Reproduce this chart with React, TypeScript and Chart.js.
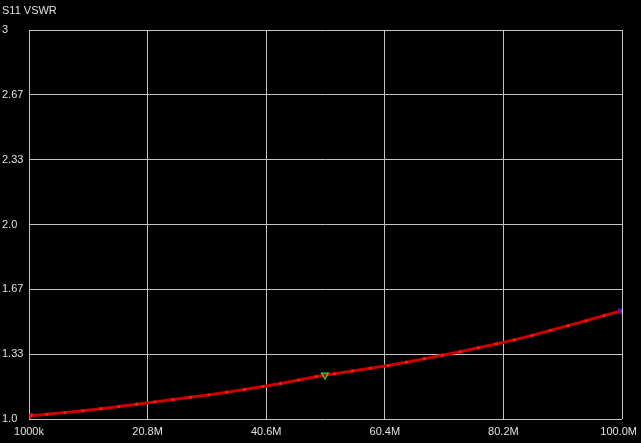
import React, { useEffect, useRef } from "react";
import { Chart, registerables } from "chart.js";

Chart.register(...registerables);

const freqsMHz = [1, 4, 7, 10, 13, 16, 19, 22, 25, 28, 31, 34, 37, 40, 43, 46, 49, 52, 55, 58, 61, 64, 67, 70, 73, 76, 79, 82, 85, 88, 91, 94, 97, 100];
const vswr = [1.015, 1.024, 1.033, 1.042, 1.053, 1.064, 1.076, 1.088, 1.1, 1.112, 1.124, 1.138, 1.152, 1.167, 1.183, 1.2, 1.218, 1.233, 1.247, 1.261, 1.275, 1.292, 1.31, 1.328, 1.346, 1.366, 1.386, 1.407, 1.43, 1.455, 1.48, 1.505, 1.532, 1.555];

const markerFreqs = [1, 50.4, 100];
const markerVswr = [1.015, 1.226, 1.555];
const markerColors = ["#ff2020", "#30e030", "#2020ff"];

const xTickValues = [1, 20.8, 40.6, 60.4, 80.2, 100];
const xTickLabels = ["1000k", "20.8M", "40.6M", "60.4M", "80.2M", "100.0M"];
const yTickValues = [1.0, 1.333, 1.667, 2.0, 2.333, 2.667, 3.0];
const yTickLabels = ["1.0", "1.33", "1.67", "2.0", "2.33", "2.67", "3"];

const titleText = "S11 VSWR";

export default function App() {
  const ref = useRef<HTMLCanvasElement | null>(null);

  useEffect(() => {
    document.body.style.margin = "0";
    document.body.style.background = "#000";
    const canvas = ref.current;
    if (!canvas) return;

    const textPlugin = {
      id: "texts",
      afterDraw(chart: any) {
        const ctx = chart.ctx;
        ctx.save();
        ctx.fillStyle = "#e0e0e0";
        ctx.font = "11px 'Liberation Sans'";
        ctx.textBaseline = "middle";
        ctx.textAlign = "left";
        ctx.fillText(titleText, 2, 11);
        // x tick labels, kept inside the canvas
        const xs = chart.scales.x;
        const yBase = chart.chartArea.bottom + 13;
        xTickValues.forEach((v, i) => {
          const label = xTickLabels[i];
          const w = ctx.measureText(label).width;
          let left = xs.getPixelForValue(v) - w / 2;
          if (left + w > chart.width - 4) left = chart.width - 4 - w;
          if (left < 0) left = 0;
          ctx.fillText(label, left, yBase);
        });
        ctx.restore();
      },
    };

    const font = { family: "'Liberation Sans'", size: 11 };

    const chart = new Chart(canvas, {
      type: "scatter",
      data: {
        datasets: [
          {
            data: freqsMHz.map((f, i) => ({ x: f, y: vswr[i] })),
            showLine: true,
            borderColor: "#cc0000",
            borderWidth: 3,
            pointRadius: 1.6,
            pointBackgroundColor: "#ff1a1a",
            pointBorderWidth: 0,
            order: 2,
          },
          ...markerFreqs.map((f, i) => ({
            data: [{ x: f, y: markerVswr[i] }],
            pointStyle: "triangle" as const,
            rotation: 180,
            pointRadius: 4,
            pointBorderColor: markerColors[i],
            pointBackgroundColor: "rgba(0,0,0,0)",
            pointBorderWidth: 1.2,
            order: 1,
          })),
        ],
      },
      options: {
        animation: false,
        responsive: false,
        layout: { padding: { left: 2, right: 0, top: 30, bottom: 0 } },
        plugins: { legend: { display: false }, tooltip: { enabled: false } },
        scales: {
          x: {
            type: "linear",
            min: 1,
            max: 100,
            afterBuildTicks: (scale: any) => {
              scale.ticks = xTickValues.map((v) => ({ value: v }));
            },
            afterFit: (scale: any) => {
              scale.height = 24;
              scale.paddingLeft = 0;
              scale.paddingRight = 19;
            },
            ticks: {
              display: false,
              autoSkip: false,
            },
            grid: { color: "#c4c4c4", lineWidth: 1, drawTicks: false },
            border: { display: false },
          },
          y: {
            type: "linear",
            min: 1,
            max: 3,
            afterBuildTicks: (scale: any) => {
              scale.ticks = yTickValues.map((v) => ({ value: v }));
            },
            afterFit: (scale: any) => {
              scale.width = 27;
            },
            ticks: {
              color: "#e0e0e0",
              font,
              crossAlign: "far",
              autoSkip: false,
              callback: (_v: any, i: number) => yTickLabels[i],
            },
            grid: { color: "#c4c4c4", lineWidth: 1, drawTicks: false },
            border: { display: false },
          },
        },
      },
      plugins: [textPlugin],
    } as any);

    return () => chart.destroy();
  }, []);

  return (
    <div style={{ width: 641, height: 443, background: "#000" }}>
      <canvas ref={ref} width={641} height={443} style={{ display: "block" }} />
    </div>
  );
}
